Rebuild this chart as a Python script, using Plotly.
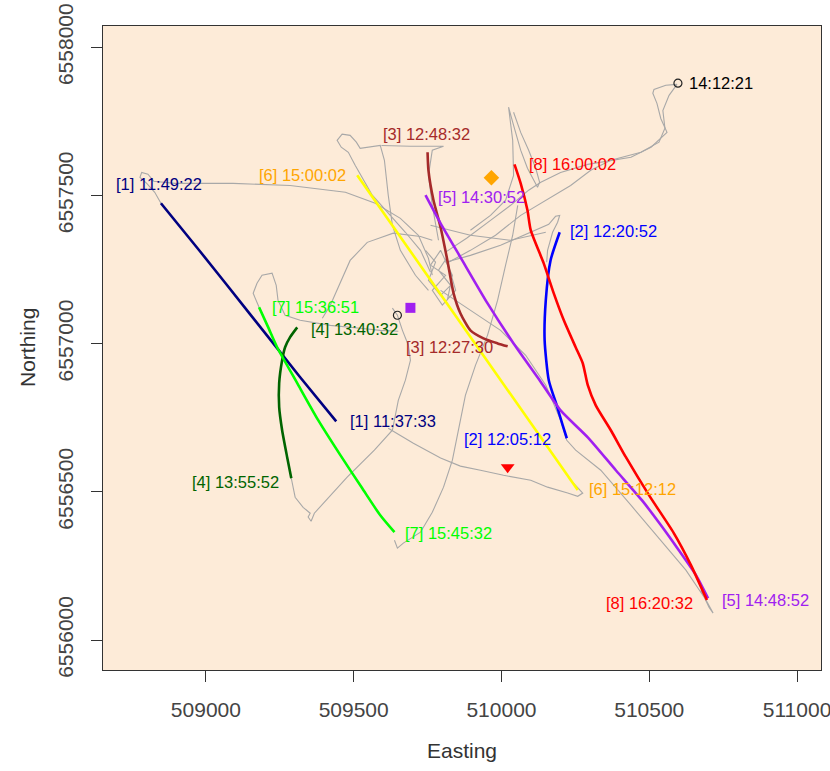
import plotly.graph_objects as go

# ---- GPS track of the whole trip (metres, UTM easting / northing); None breaks pieces
track_e = [508848, 508827, 508800, 508777, 508783, 508804, 508824, 508895, 509092, 509285, 509472, 509573, 509658, 509719, 509753, 509766, None,
           509760, 509726, 509675, 509624, 509563, 509505, 509482, 509458, 509444, 509461, 509488, 509509, 509522, 509590, 509604, 509617, 509631, 509658, 509709, 509753, None,
           509594, 509692, 509804, 509766, 509753, 509766, 509787, None,
           509895, 509963, 510014, 510041, 510038, 510024, 510041, 510065, 510088, 510109, 510122, 510129, 510116, 510092, 510065, 510041, None,
           510594, 510556, 510516, 510512, 510526, 510539, 510560, 510506, 510438, 510336, 510292, 510200, 510133, 510092, 510031, 509963, 509882, 509811, None,
           510594, 510567, 510546, 510553, 510533, 510472, 510370, 510302, 510234, 510150, 510065, 509980, 509895, 509821, None,
           509811, 509895, 509997, 510099, 510160, 510183, 510197, 510190, 510173, 510156, 510153, None,
           510055, 510038, 510014, 509987, 509953, 509912, 509878, 509855, 509834, 509804, 509766, 509726, 509668, 509648, 509638, None,
           509289, 509302, 509329, 509353, 509346, 509356, 509367, 509397, 509478, 509570, 509631, 509651, 509675, 509692, 509685, 509665, 509651, 509648, 509631, None,
           509617, 509702, 509794, 509861, 509929, 510007, 510099, 510156, 510224, 510258, 510275, 510261, 510228, None,
           509180, 509160, 509173, 509190, 509224, 509238, 509244, 509268, 509319, 509421, 509522, 509590, 509651, None,
           509766, 509726, 509634, 509546, 509488, 509444, 509421, 509394, None,
           509743, 509777, 509753, 509794, 509828, 509787, 509814, 509845, 509800, 509766, 509811, 509760, 509794, 509834, 509817, None,
           509794, 509895, 509997, 510082, 510150, 510200, 510221, 510251, 510336, 510438, 510539, 510624, 510692, 510716, 510702, 510675, None,
           509760, 509895, 510031, 510150]
track_n = [6557474, 6557511, 6557541, 6557561, 6557578, 6557572, 6557548, 6557541, 6557541, 6557534, 6557511, 6557474, 6557423, 6557366, 6557288, 6557231, None,
           6557241, 6557315, 6557376, 6557433, 6557501, 6557602, 6557646, 6557663, 6557686, 6557707, 6557703, 6557680, 6557659, 6557669, 6557619, 6557501, 6557400, 6557315, 6557231, 6557180, None,
           6557669, 6557666, 6557666, 6557653, 6557568, 6557467, 6557349, None,
           6557383, 6557433, 6557484, 6557568, 6557686, 6557798, 6557737, 6557653, 6557592, 6557551, 6557528, 6557545, 6557592, 6557653, 6557713, 6557781, None,
           6557875, 6557872, 6557858, 6557845, 6557811, 6557760, 6557713, 6557663, 6557629, 6557612, 6557605, 6557578, 6557545, 6557518, 6557467, 6557416, 6557356, 6557309, None,
           6557875, 6557838, 6557787, 6557727, 6557680, 6557646, 6557619, 6557585, 6557534, 6557484, 6557433, 6557366, 6557315, 6557275, None,
           6557275, 6557298, 6557332, 6557376, 6557403, 6557430, 6557433, 6557410, 6557376, 6557315, 6557275, None,
           6557467, 6557366, 6557265, 6557147, 6557029, 6556927, 6556826, 6556708, 6556607, 6556516, 6556431, 6556364, 6556327, 6556310, 6556337, None,
           6556546, 6556482, 6556448, 6556428, 6556415, 6556401, 6556428, 6556462, 6556550, 6556641, 6556708, 6556809, 6556877, 6556944, 6556995, 6557045, 6557086, 6557096, 6557120, None,
           6556715, 6556664, 6556614, 6556587, 6556573, 6556556, 6556539, 6556516, 6556496, 6556485, 6556496, 6556512, 6556546, None,
           6557123, 6557170, 6557204, 6557231, 6557238, 6557197, 6557147, 6557096, 6557079, 6557062, 6557052, 6557045, 6557042, None,
           6557349, 6557362, 6557373, 6557342, 6557281, 6557180, 6557130, 6557086, None,
           6557315, 6557275, 6557214, 6557163, 6557197, 6557248, 6557288, 6557180, 6557130, 6557180, 6557231, 6557265, 6557315, 6557231, 6557147, None,
           6557180, 6557113, 6557045, 6556961, 6556860, 6556742, 6556674, 6556641, 6556573, 6556455, 6556337, 6556236, 6556135, 6556091, 6556111, 6556168, None,
           6557400, 6557366, 6557349, 6557376]

# ---- highlighted flight segments [1]..[8]
seg1_e = [508848, 508980, 509150, 509319, 509441]
seg1_n = [6557474, 6557312, 6557099, 6556887, 6556738]
seg2_e = [510197, 510166, 510150, 510146, 510160, 510187, 510207, 510221]
seg2_n = [6557376, 6557281, 6557147, 6557012, 6556877, 6556792, 6556725, 6556681]
seg3_e = [509750, 509753, 509770, 509794, 509817, 509838, 509861, 509895, 509939, 509987, 510021]
seg3_n = [6557646, 6557585, 6557484, 6557393, 6557281, 6557170, 6557103, 6557045, 6557018, 6557001, 6556991]
seg4_e = [509309, 509285, 509268, 509258, 509248, 509248, 509258, 509275, 509289]
seg4_n = [6557055, 6557022, 6556988, 6556944, 6556867, 6556786, 6556708, 6556617, 6556546]
seg5_e = [509743, 509794, 509861, 509953, 510041, 510122, 510200, 510292, 510387, 510475, 510539, 510600, 510658, 510699]
seg5_n = [6557501, 6557406, 6557292, 6557136, 6557001, 6556887, 6556775, 6556684, 6556573, 6556472, 6556388, 6556303, 6556219, 6556141]
seg6_e = [509512, 509885, 510258]
seg6_n = [6557568, 6557037, 6556506]
seg7_e = [509180, 509211, 509241, 509309, 509380, 509455, 509529, 509590, 509638]
seg7_n = [6557123, 6557055, 6556988, 6556867, 6556742, 6556624, 6556512, 6556421, 6556364]
seg8_e = [510044, 510065, 510088, 510099, 510143, 510177, 510211, 510251, 510275, 510292, 510319, 510370, 510421, 510499, 510583, 510641, 510695]
seg8_n = [6557605, 6557541, 6557450, 6557383, 6557271, 6557170, 6557079, 6556988, 6556934, 6556860, 6556792, 6556708, 6556617, 6556489, 6556361, 6556253, 6556135]

seg_line_colors = ["#000080", "#0000FF", "#A52A2A", "#006400", "#A020F0", "#FFFF00", "#00FF00", "#FF0000"]

# ---- segment start / end time labels
label_text = ["[1] 11:49:22", "[1] 11:37:33", "[2] 12:20:52", "[2] 12:05:12",
              "[3] 12:48:32", "[3] 12:27:30", "[4] 13:40:32", "[4] 13:55:52",
              "[5] 14:30:52", "[5] 14:48:52", "[6] 15:00:02", "[6] 15:12:12",
              "[7] 15:36:51", "[7] 15:45:32", "[8] 16:00:02", "[8] 16:20:32", "14:12:21"]
label_e = [508842, 509633, 510378, 510022, 509746, 509825, 509502, 509099,
           509934, 510894, 509328, 510444, 509370, 509820, 510241, 510502, 510742]
label_n = [6557538, 6556738, 6557379, 6556680, 6557709, 6556989, 6557049, 6556534,
           6557495, 6556135, 6557568, 6556509, 6557124, 6556360, 6557605, 6556124, 6557878]
label_colors = ["#000080", "#000080", "#0000FF", "#0000FF", "#A52A2A", "#A52A2A",
                "#006400", "#006400", "#A020F0", "#A020F0", "#FFA500", "#FFA500",
                "#00FF00", "#00FF00", "#FF0000", "#FF0000", "#000000"]

# ---- point features
circle_e = [510597, 509648]
circle_n = [6557879, 6557096]
square_e, square_n = [509692], [6557121]
diamond_e, diamond_n = [509966], [6557560]
triangle_e, triangle_n = [510021], [6556583]

x_ticks = [509000, 509500, 510000, 510500, 511000]
y_ticks = [6556000, 6556500, 6557000, 6557500, 6558000]

FONT = "Liberation Sans, Arial, sans-serif"

fig = go.Figure()

fig.add_trace(go.Scatter(x=track_e, y=track_n, mode="lines",
                         line=dict(color="#A8A8A8", width=1.1),
                         connectgaps=False, hoverinfo="skip"))

segments = [(seg1_e, seg1_n), (seg2_e, seg2_n), (seg3_e, seg3_n), (seg4_e, seg4_n),
            (seg5_e, seg5_n), (seg6_e, seg6_n), (seg7_e, seg7_n), (seg8_e, seg8_n)]
for (se, sn), col in zip(segments, seg_line_colors):
    fig.add_trace(go.Scatter(x=se, y=sn, mode="lines",
                             line=dict(color=col, width=2.6, shape="spline", smoothing=0.6)))

fig.add_trace(go.Scatter(x=circle_e, y=circle_n, mode="markers",
                         marker=dict(symbol="circle-open", size=8, color="#222",
                                     line=dict(width=1.2, color="#222"))))
fig.add_trace(go.Scatter(x=square_e, y=square_n, mode="markers",
                         marker=dict(symbol="square", size=10, color="#A020F0")))
fig.add_trace(go.Scatter(x=diamond_e, y=diamond_n, mode="markers",
                         marker=dict(symbol="diamond", size=12, color="#FFA500")))
fig.add_trace(go.Scatter(x=triangle_e, y=triangle_n, mode="markers",
                         marker=dict(symbol="triangle-down", size=12, color="#FF0000")))

for t, e, n, c in zip(label_text, label_e, label_n, label_colors):
    fig.add_annotation(x=e, y=n, text=t, showarrow=False, xanchor="center",
                       yanchor="middle", font=dict(family=FONT, size=16.5, color=c))

# axis titles
fig.add_annotation(xref="paper", yref="paper", x=0.5, y=0, yshift=-80,
                   text="Easting", showarrow=False, xanchor="center", yanchor="middle",
                   font=dict(family=FONT, size=21, color="#333"))
fig.add_annotation(xref="paper", yref="paper", x=0, y=0.5, xshift=-76,
                   text="Northing", textangle=-90, showarrow=False,
                   xanchor="center", yanchor="middle",
                   font=dict(family=FONT, size=21, color="#333"))

axis_common = dict(showgrid=False, zeroline=False, showline=True, mirror=True,
                   linecolor="#333", linewidth=1, ticks="outside", ticklen=11,
                   tickwidth=1, tickcolor="#333", ticklabeloverflow="allow",
                   automargin=False,
                   tickfont=dict(family=FONT, size=21, color="#444"))

fig.update_layout(
    width=830, height=771,
    margin=dict(l=103, r=9, t=26, b=101),
    paper_bgcolor="white", plot_bgcolor="#FDEBD8",
    showlegend=False,
    xaxis=dict(range=[508652, 511081], tickvals=x_ticks,
               ticktext=[str(v) for v in x_ticks], ticklabelstandoff=10,
               **axis_common),
    yaxis=dict(range=[6555899, 6558072], tickvals=y_ticks,
               ticktext=[str(v) for v in y_ticks], tickangle=-90,
               ticklabelstandoff=10, **axis_common),
)

fig.write_html("out.html")
